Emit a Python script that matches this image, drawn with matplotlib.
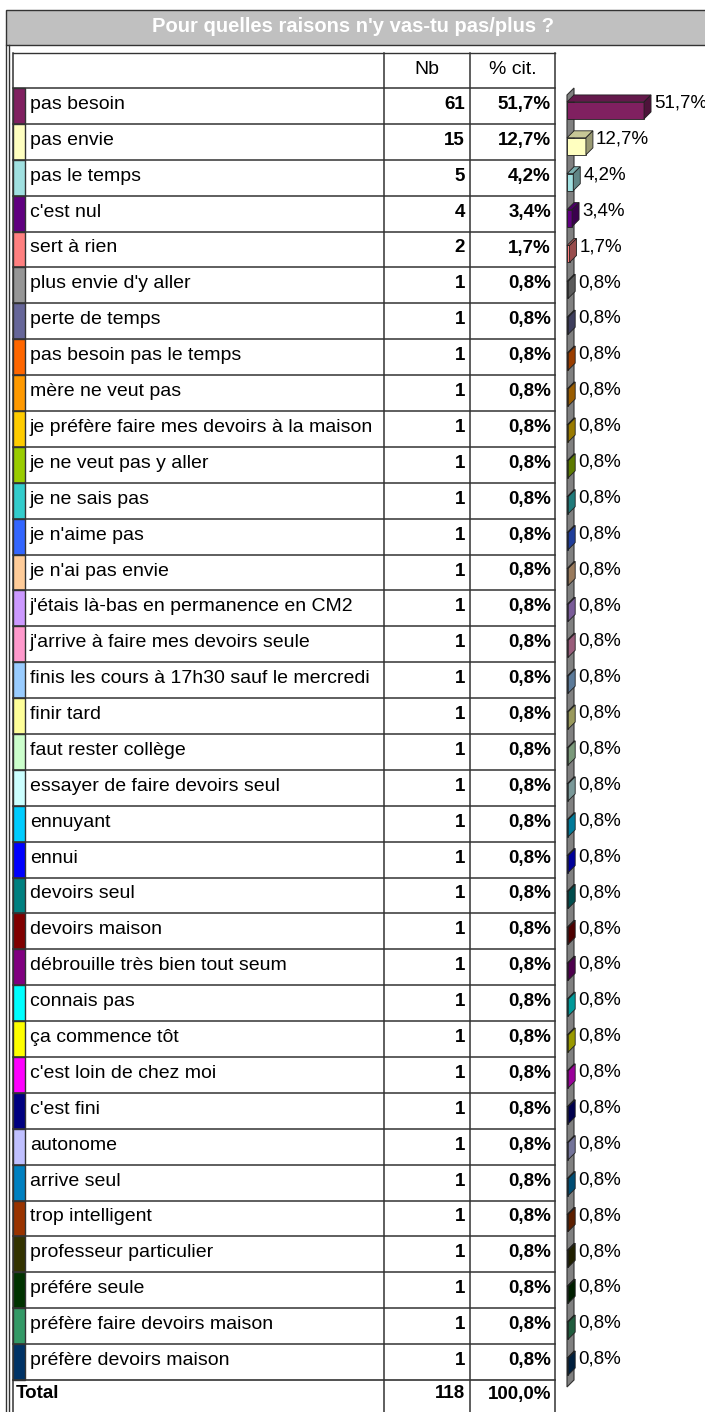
import numpy as np
import matplotlib
matplotlib.use('Agg')
import matplotlib.pyplot as plt
from matplotlib.patches import Rectangle, Polygon
from matplotlib.colors import to_rgb

plt.rcParams['font.family'] = ['Liberation Sans', 'DejaVu Sans']

title = "Pour quelles raisons n'y vas-tu pas/plus ?"
labels = [
    "pas besoin", "pas envie", "pas le temps", "c'est nul", "sert à rien",
    "plus envie d'y aller", "perte de temps", "pas besoin pas le temps",
    "mère ne veut pas", "je préfère faire mes devoirs à la maison",
    "je ne veut pas y aller", "je ne sais pas", "je n'aime pas",
    "je n'ai pas envie", "j'étais là-bas en permanence en CM2",
    "j'arrive à faire mes devoirs seule",
    "finis les cours à 17h30 sauf le mercredi", "finir tard",
    "faut rester collège", "essayer de faire devoirs seul", "ennuyant",
    "ennui", "devoirs seul", "devoirs maison", "débrouille très bien tout seum",
    "connais pas", "ça commence tôt", "c'est loin de chez moi", "c'est fini",
    "autonome", "arrive seul", "trop intelligent", "professeur particulier",
    "préfére seule", "préfère faire devoirs maison", "préfère devoirs maison",
]
counts = [61, 15, 5, 4, 2, 1, 1, 1, 1, 1, 1, 1, 1, 1, 1, 1, 1, 1,
          1, 1, 1, 1, 1, 1, 1, 1, 1, 1, 1, 1, 1, 1, 1, 1, 1, 1]
pcts = [51.7, 12.7, 4.2, 3.4, 1.7, 0.8, 0.8, 0.8, 0.8, 0.8, 0.8, 0.8,
        0.8, 0.8, 0.8, 0.8, 0.8, 0.8, 0.8, 0.8, 0.8, 0.8, 0.8, 0.8,
        0.8, 0.8, 0.8, 0.8, 0.8, 0.8, 0.8, 0.8, 0.8, 0.8, 0.8, 0.8]
colors = [
    "#802060", "#ffffc0", "#a0e0e0", "#600080", "#ff8080", "#969696",
    "#666699", "#ff6600", "#ff9900", "#ffcc00", "#99cc00", "#33cccc",
    "#3366ff", "#ffcc99", "#cc99ff", "#ff99cc", "#99ccff", "#ffff99",
    "#ccffcc", "#ccffff", "#00ccff", "#0000ff", "#008080", "#800000",
    "#800080", "#00ffff", "#ffff00", "#ff00ff", "#000080", "#c0c0ff",
    "#0080c0", "#993300", "#333300", "#003300", "#339966", "#003366",
]
total_nb = 118
total_pct = 100.0


def fmt(p):
    return f"{p:.1f}".replace('.', ',') + '%'


W, H = 705, 1412
fig = plt.figure(figsize=(W / 100, H / 100), dpi=100)
ax = fig.add_axes([0, 0, 1, 1])
ax.set_xlim(0, W)
ax.set_ylim(H, 0)
ax.axis('off')

line_c = '#333333'
fs = 14
fs_b = 13.5

# title bar
ax.add_patch(Rectangle((6, 10), W, 35, facecolor='#c0c0c0', edgecolor=line_c, lw=1))
ax.text(353, 27, title, color='white', fontsize=14.5, fontweight='bold',
        ha='center', va='center')
ax.plot([6, 6], [45, H], color=line_c, lw=1)
ax.plot([9, 9], [45, H], color=line_c, lw=1)

# table geometry
x0, x_sw, x_nb, x_pc, x1 = 13, 25, 384, 470, 555
y_head, y_top, y_bot = 53, 88, 1380
n = len(labels)
rh = (y_bot - y_top) / n

ax.plot([x0, x1], [y_head, y_head], color=line_c, lw=1)
ax.text((x_nb + x_pc) / 2, (y_head + y_top) / 2 - 1, "Nb", fontsize=fs,
        ha='center', va='center')
ax.text((x_pc + x1) / 2, (y_head + y_top) / 2 - 1, "% cit.", fontsize=fs,
        ha='center', va='center')

for i, (lab, nb, p, c) in enumerate(zip(labels, counts, pcts, colors)):
    yt = y_top + i * rh
    yc = yt + rh / 2 - 1.5
    ax.add_patch(Rectangle((x0, yt), x_sw - x0, rh, facecolor=c,
                           edgecolor=line_c, lw=1))
    ax.plot([x0, x1], [yt, yt], color=line_c, lw=1.1)
    ax.text(x_sw + 5, yc, lab, fontsize=fs, ha='left', va='center')
    ax.text(x_pc - 5, yc, str(nb), fontsize=fs_b, fontweight='bold',
            ha='right', va='center')
    ax.text(x1 - 4, yc, fmt(p), fontsize=fs_b, fontweight='bold',
            ha='right', va='center')

ax.plot([x0, x1], [y_bot, y_bot], color=line_c, lw=1.2)
yc = 1394
ax.text(x0 + 3, yc, "Total", fontsize=fs_b, fontweight='bold', ha='left', va='center')
ax.text(x_pc - 5, yc, str(total_nb), fontsize=fs_b, fontweight='bold',
        ha='right', va='center')
ax.text(x1 - 4, yc, fmt(total_pct), fontsize=fs_b, fontweight='bold',
        ha='right', va='center')

for xv in [x0, x_nb, x_pc, x1]:
    ax.plot([xv, xv], [y_head, H], color=line_c, lw=1.1)

# 3D bar chart on the right
bx_left, bx_right = 567, W
px_per_pct = 1.49
bx = fig.add_axes([bx_left / W, 1 - y_bot / H, (bx_right - bx_left) / W,
                   (y_bot - y_top) / H])
bx.set_xlim(0, (bx_right - bx_left) / px_per_pct)
bx.set_ylim(n - 0.5, -0.5)
bx.axis('off')

depth = 7
dx = depth / px_per_pct
dy = depth / rh
bh = 17 / rh
shift = 0.125

bx.add_patch(Polygon([(0, -0.5 + dy), (dx, -0.5), (dx, n - 0.5), (0, n - 0.5 + dy)],
                     closed=True, facecolor='#808080', edgecolor='#303030',
                     lw=0.8, clip_on=False))

for i, (p, c) in enumerate(zip(pcts, colors)):
    base = np.array(to_rgb(c))
    top_c = base * 0.78
    side_c = base * 0.6
    y_lo = i + shift + bh / 2
    y_hi = i + shift - bh / 2
    bx.barh(i + shift, p, height=bh, color=c, edgecolor='#202020', lw=0.6,
            clip_on=False)
    bx.add_patch(Polygon([(0, y_hi), (dx, y_hi - dy), (p + dx, y_hi - dy), (p, y_hi)],
                         closed=True, facecolor=top_c, edgecolor='#202020',
                         lw=0.6, clip_on=False))
    bx.add_patch(Polygon([(p, y_hi), (p + dx, y_hi - dy), (p + dx, y_lo - dy), (p, y_lo)],
                         closed=True, facecolor=side_c, edgecolor='#202020',
                         lw=0.6, clip_on=False))
    bx.text(p + dx + 3 / px_per_pct, i - 0.08, fmt(p), fontsize=13.5,
            ha='left', va='center', clip_on=False)

fig.savefig('out.png', dpi=100)
